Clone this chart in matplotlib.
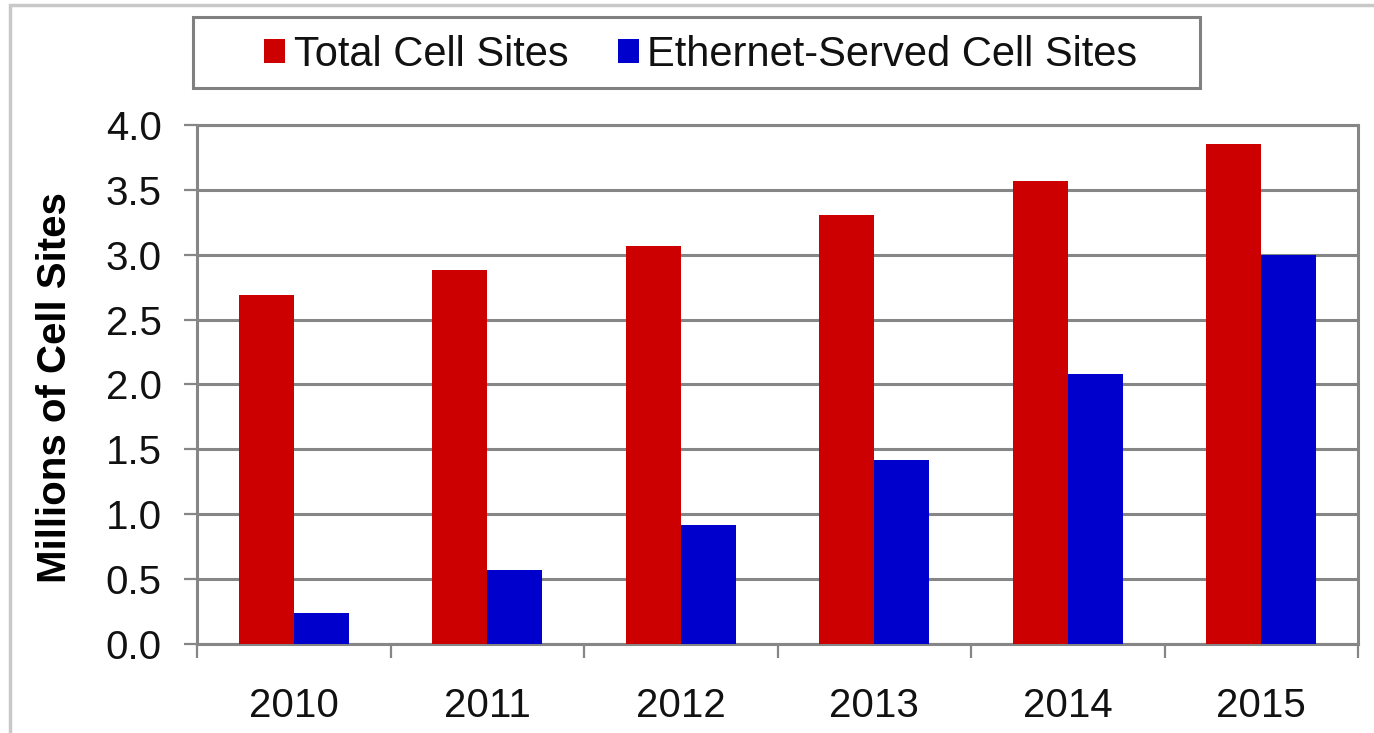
import matplotlib.pyplot as plt
import matplotlib.patches as mpatches
import numpy as np

plt.rcParams['font.family'] = ['Liberation Sans', 'DejaVu Sans']

years = ['2010', '2011', '2012', '2013', '2014', '2015']
total_sites = [2.69, 2.88, 3.07, 3.31, 3.57, 3.85]
ethernet_sites = [0.24, 0.57, 0.92, 1.42, 2.08, 3.00]
yticks = [0.0, 0.5, 1.0, 1.5, 2.0, 2.5, 3.0, 3.5, 4.0]

red = '#cc0000'
blue = '#0000cc'
gray = '#868686'

W, H = 1374, 733
fig = plt.figure(figsize=(W / 100, H / 100), dpi=100)

# outer light border (right/bottom edges cropped in the original)
fig.patches.append(mpatches.Rectangle((10 / W, -0.1), 1.2, 1 - 5 / H + 0.1,
                                      transform=fig.transFigure, fill=False,
                                      edgecolor='#c8c8c8', linewidth=2.5))

ax = fig.add_axes([197 / W, 1 - 644 / H, (1358 - 197) / W, (644 - 125) / H])

x = np.arange(len(years))
bw = 0.285
ax.bar(x - bw / 2, total_sites, bw, color=red, label='Total Cell Sites', zorder=3)
ax.bar(x + bw / 2, ethernet_sites, bw, color=blue, label='Ethernet-Served Cell Sites', zorder=3)

ax.set_xlim(-0.5, len(years) - 0.5)
ax.set_ylim(0, 4.0)
ax.set_yticks(yticks)
ax.set_yticklabels([f'{v:.1f}' for v in yticks])
ax.set_xticks(x)
ax.set_xticklabels(years)
ax.set_xticks(np.arange(-0.5, len(years)), minor=True)

ax.yaxis.grid(True, color=gray, linewidth=2.2, zorder=0)
ax.set_axisbelow(True)
for s in ax.spines.values():
    s.set_color(gray)
    s.set_linewidth(2.2)

ax.tick_params(axis='y', length=9.5, width=1.6, color=gray, labelsize=29, pad=16,
               labelcolor='#111111')
ax.tick_params(axis='x', which='major', length=0, labelsize=29, pad=31,
               labelcolor='#111111')
ax.tick_params(axis='x', which='minor', length=10, width=1.6, color=gray)

ax.set_ylabel('Millions of Cell Sites', fontsize=29, fontweight='bold')
ax.yaxis.set_label_coords(-0.106, 0.494)

# legend box
fig.patches.append(mpatches.Rectangle((193 / W, 1 - 88 / H), (1200 - 193) / W, 71 / H,
                                      transform=fig.transFigure, fill=False,
                                      edgecolor='#808080', linewidth=2.2))
handles, labels = ax.get_legend_handles_labels()
fig.legend(handles, labels, loc='center', bbox_to_anchor=(701 / W, 1 - 55 / H),
           ncol=2, frameon=False, fontsize=30, handlelength=0.5, handleheight=0.5,
           handletextpad=0.2, columnspacing=1.2, labelcolor='#111111')

fig.savefig('out.png', dpi=100)
